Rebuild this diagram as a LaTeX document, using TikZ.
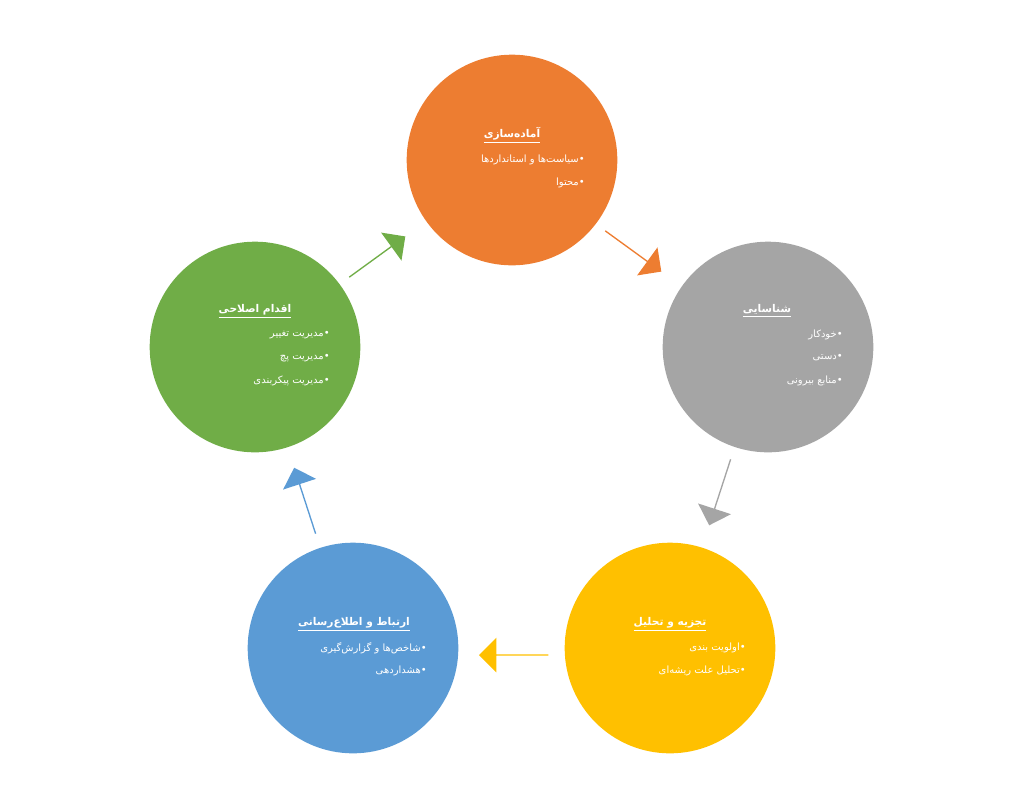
\documentclass[tikz,border=0pt]{standalone}
\usepackage{fontspec}
\newfontfamily\arabicfont[Script=Arabic]{DejaVu Sans}
\TeXXeTstate=1
\usetikzlibrary{shapes.arrows,calc}
\definecolor{cor}{HTML}{ED7D31}
\definecolor{cgr}{HTML}{A5A5A5}
\definecolor{cye}{HTML}{FFC000}
\definecolor{cbl}{HTML}{5B9BD5}
\definecolor{cgn}{HTML}{70AD47}
\tikzset{
  circ/.style={circle,minimum size=158pt,inner sep=0pt,draw=none},
  ttl/.style={text=white,font=\arabicfont\fontsize{8}{9}\selectfont\bfseries,inner sep=0pt},
  itm/.style={text=white,font=\arabicfont\fontsize{7.5}{9}\selectfont,inner sep=0pt,anchor=east},
  barrow/.style={single arrow,draw=none,minimum height=52pt,minimum width=26pt,single arrow head extend=7pt,inner sep=0pt,shape border uses incircle}
}
\begin{document}
\begin{tikzpicture}[x=0.75pt,y=-0.75pt]
\useasboundingbox (0,0) rectangle (1024,794);
\node[circ,fill=cor] (c1) at (512,160) {};
\node[circ,fill=cgr] (c2) at (768,347) {};
\node[circ,fill=cye] (c3) at (670,648) {};
\node[circ,fill=cbl] (c4) at (353,648) {};
\node[circ,fill=cgn] (c5) at (255,347) {};
% arrows
\node[barrow,fill=cor,shape border rotate=0,rotate=-36] (a1) at (633,251) {};
\node[barrow,fill=cgr,rotate=-108] (a2) at (720,492) {};
\node[barrow,fill=cye,rotate=180] (a3) at (514,655) {};
\node[barrow,fill=cbl,rotate=108] (a4) at (305,501) {};
\node[barrow,fill=cgn,rotate=36] (a5) at (377,257) {};
% texts c1
\node[ttl] (t1) at (512,135) {\underline{\beginR آماده‌سازی\endR}};
\node[itm] (t1a) at (585,160) {\beginR •سیاست‌ها و استانداردها\endR};
\node[itm] (t1b) at (585,183) {\beginR •محتوا\endR};
% c2
\node[ttl] (t2) at (767,311) {\underline{\beginR شناسایی\endR}};
\node[itm] (t2a) at (843,335) {\beginR •خودکار\endR};
\node[itm] (t2b) at (843,358) {\beginR •دستی\endR};
\node[itm] (t2c) at (843,381) {\beginR •منابع بیرونی\endR};
% c3
\node[ttl] (t3) at (670,624) {\underline{\beginR تجزیه و تحلیل\endR}};
\node[itm] (t3a) at (746,648) {\beginR •اولویت بندی\endR};
\node[itm] (t3b) at (746,671) {\beginR •تحلیل علت ریشه‌ای\endR};
% c4
\node[ttl] (t4) at (354,624) {\underline{\beginR ارتباط و اطلاع‌رسانی\endR}};
\node[itm] (t4a) at (427,648) {\beginR •شاخص‌ها و گزارش‌گیری\endR};
\node[itm] (t4b) at (427,671) {\beginR •هشداردهی\endR};
% c5
\node[ttl] (t5) at (255,311) {\underline{\beginR اقدام اصلاحی\endR}};
\node[itm] (t5a) at (330,335) {\beginR •مدیریت تغییر\endR};
\node[itm] (t5b) at (330,358) {\beginR •مدیریت پچ\endR};
\node[itm] (t5c) at (330,381) {\beginR •مدیریت پیکربندی\endR};
\end{tikzpicture}
\end{document}
